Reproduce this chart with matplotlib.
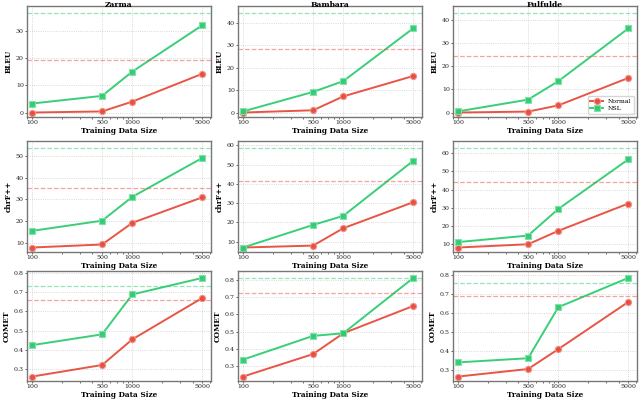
import matplotlib
matplotlib.use("Agg")
import matplotlib.pyplot as plt
import numpy as np

plt.rcParams['font.family'] = 'DejaVu Serif'

sizes = [100, 500, 1000, 5000]
languages = ["Zarma", "Bambara", "Fulfulde"]
metrics = ["BLEU", "chrF++", "COMET"]

# Normal / NSL values per metric, per language
bleu_normal = {"Zarma": [0.0, 0.4, 4.0, 14.2], "Bambara": [0.0, 1.0, 7.2, 16.3], "Fulfulde": [0.0, 0.4, 3.1, 15.0]}
bleu_nsl = {"Zarma": [3.3, 6.1, 15.0, 32.0], "Bambara": [0.5, 9.2, 14.0, 37.6], "Fulfulde": [0.5, 5.6, 13.6, 36.5]}
chrf_normal = {"Zarma": [7.8, 9.2, 19.2, 31.0], "Bambara": [7.0, 8.0, 17.0, 30.5], "Fulfulde": [8.0, 9.8, 17.2, 32.3]}
chrf_nsl = {"Zarma": [15.5, 20.2, 31.2, 49.2], "Bambara": [7.0, 18.7, 23.4, 52.0], "Fulfulde": [11.0, 14.6, 29.3, 56.7]}
comet_normal = {"Zarma": [0.262, 0.322, 0.455, 0.670], "Bambara": [0.240, 0.370, 0.490, 0.648], "Fulfulde": [0.265, 0.305, 0.410, 0.660]}
comet_nsl = {"Zarma": [0.425, 0.481, 0.688, 0.774], "Bambara": [0.338, 0.475, 0.490, 0.810], "Fulfulde": [0.340, 0.362, 0.632, 0.787]}

# reference (dashed) lines
ref_normal = {"BLEU": {"Zarma": 19.4, "Bambara": 28.5, "Fulfulde": 24.6},
              "chrF++": {"Zarma": 35.5, "Bambara": 41.7, "Fulfulde": 44.0},
              "COMET": {"Zarma": 0.661, "Bambara": 0.721, "Fulfulde": 0.690}}
ref_nsl = {"BLEU": {"Zarma": 36.5, "Bambara": 44.4, "Fulfulde": 43.2},
           "chrF++": {"Zarma": 53.8, "Bambara": 58.6, "Fulfulde": 63.0},
           "COMET": {"Zarma": 0.732, "Bambara": 0.808, "Fulfulde": 0.762}}

normal_data = {"BLEU": bleu_normal, "chrF++": chrf_normal, "COMET": comet_normal}
nsl_data = {"BLEU": bleu_nsl, "chrF++": chrf_nsl, "COMET": comet_nsl}

RED = "#e74c3c"
GREEN = "#2ecc71"

W, H = 640, 399
fig = plt.figure(figsize=(W / 100, H / 100), dpi=100)

col_left = [27, 238, 453]
col_w = 184
row_top = [6, 141, 271]
row_h = [111, 111, 110]

for r, metric in enumerate(metrics):
    for c, lang in enumerate(languages):
        x0 = col_left[c] / W
        y0 = 1 - (row_top[r] + row_h[r]) / H
        ax = fig.add_axes([x0, y0, col_w / W, row_h[r] / H])
        yn = normal_data[metric][lang]
        ys = nsl_data[metric][lang]
        ax.plot(sizes, yn, '-o', color=RED, lw=1.4, ms=4.5, label="Normal",
                markerfacecolor=RED, markeredgecolor="#f1948a", markeredgewidth=0.8, alpha=0.95)
        ax.plot(sizes, ys, '-s', color=GREEN, lw=1.4, ms=4.5, label="NSL",
                markerfacecolor=GREEN, markeredgecolor="#82e0aa", markeredgewidth=0.8, alpha=0.95)
        ax.axhline(ref_normal[metric][lang], color=RED, ls='--', lw=0.9, alpha=0.5)
        ax.axhline(ref_nsl[metric][lang], color=GREEN, ls='--', lw=0.9, alpha=0.5)
        ax.set_xscale('log')
        ax.set_xticks(sizes)
        ax.set_xticklabels([str(s) for s in sizes])
        ax.set_xlim(89, 6100)
        vals = yn + ys + [ref_normal[metric][lang], ref_nsl[metric][lang]]
        lo, hi = min(vals), max(vals)
        rng = hi - lo
        ax.set_ylim(lo - 0.045 * rng, hi + 0.07 * rng)
        ax.grid(True, which='major', ls=':', lw=0.6, color='#cccccc')
        ax.tick_params(labelsize=4.5, length=1.5, width=0.5, pad=0.8, colors='#222222')
        ax.tick_params(which='minor', length=1.1, width=0.4)
        for sp in ax.spines.values():
            sp.set_color('#777777')
            sp.set_linewidth(1.0)
        ax.set_xlabel("Training Data Size", fontsize=5.3, fontweight='bold', va='center')
        ax.xaxis.set_label_coords(0.5, -13.8 / row_h[r])
        ax.set_ylabel(metric, fontsize=5.3, fontweight='bold', labelpad=2)
        if r == 0:
            ax.set_title(lang, fontsize=5.5, fontweight='bold', pad=0, y=0.99)
        if r == 0 and c == 2:
            ax.legend(loc='lower right', fontsize=4.5, frameon=True, borderpad=0.4,
                      handlelength=2, labelspacing=0.3)

fig.savefig("out.png", dpi=100)
